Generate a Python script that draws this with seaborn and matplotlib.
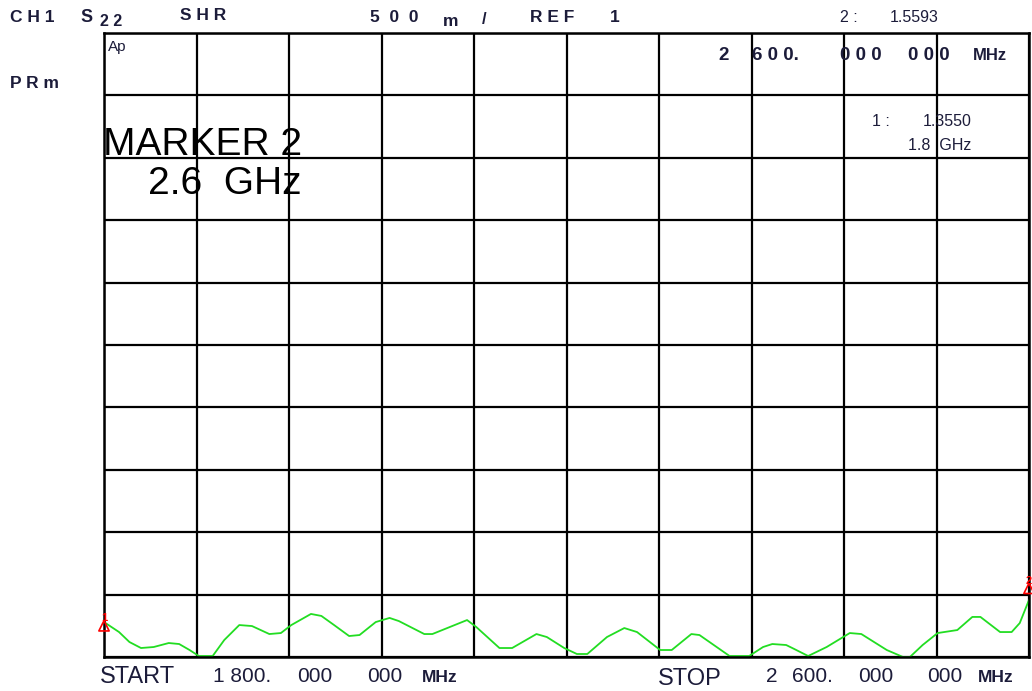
import numpy as np
import pandas as pd
import matplotlib
matplotlib.use("Agg")
import matplotlib.pyplot as plt
import seaborn as sns

# trace (MHz, SWR)
freq_mhz = [1800, 1813, 1822, 1832, 1843, 1856, 1865, 1874, 1882, 1894, 1904, 1917, 1928,
            1943, 1953, 1962, 1979, 1988, 1999, 2012, 2021, 2035, 2047, 2055, 2077,
            2084, 2114, 2122, 2142, 2153, 2174, 2183, 2198, 2209, 2218, 2235, 2250,
            2261, 2281, 2291, 2308, 2315, 2341, 2358, 2370, 2378, 2390, 2397, 2409,
            2425, 2445, 2455, 2477, 2491, 2497, 2508, 2521, 2538, 2551, 2558, 2575,
            2585, 2592, 2600]
swr = [1.28, 1.200, 1.120, 1.072, 1.080, 1.112, 1.104, 1.056, 1.008, 1.008, 1.136, 1.256, 1.248,
       1.184, 1.192, 1.256, 1.345, 1.329, 1.256, 1.168, 1.176, 1.280, 1.313, 1.288, 1.184,
       1.184, 1.296, 1.240, 1.072, 1.072, 1.184, 1.160, 1.072, 1.024, 1.024, 1.160, 1.232,
       1.200, 1.056, 1.056, 1.184, 1.176, 1.008, 1.008, 1.080, 1.104, 1.096, 1.064, 1.008,
       1.080, 1.192, 1.184, 1.056, 1.000, 1.000, 1.096, 1.192, 1.216, 1.321, 1.321, 1.200,
       1.200, 1.272, 1.457]

marker_freq = [1800, 2600]
marker_swr = [1.25, 1.55]
marker_names = ["1", "2"]

ref_value = 1.0
per_div = 0.5
n_div = 10

sns.set_style("white")
plt.rcParams['font.family'] = ['Liberation Sans', 'DejaVu Sans']

fig = plt.figure(figsize=(10.32, 6.91), dpi=100)
ax = fig.add_axes([104 / 1032, 34 / 691, 925 / 1032, 624 / 691])

df = pd.DataFrame({"freq": freq_mhz, "swr": swr})
sns.lineplot(data=df, x="freq", y="swr", ax=ax, color="#22dd22", lw=1.3)
sns.scatterplot(x=marker_freq, y=marker_swr, ax=ax, marker="^", s=55,
                facecolor="none", edgecolor="red", linewidth=1.2, zorder=5)
for coll in ax.collections:
    coll.set_clip_on(False)
for f, v, n in zip(marker_freq, marker_swr, marker_names):
    ax.text(f, v + 0.06, n, color="red", fontsize=8, ha="center", va="center",
            fontweight="bold", zorder=6, clip_on=False)

ax.set_xlim(1800, 2600)
ax.set_ylim(ref_value, ref_value + per_div * n_div)
ax.set_xticks(np.linspace(1800, 2600, n_div + 1))
ax.set_yticks(np.linspace(ref_value, ref_value + per_div * n_div, n_div + 1))
ax.grid(True, color="black", lw=1.6)
ax.tick_params(length=0, labelbottom=False, labelleft=False)
ax.set_xlabel("")
ax.set_ylabel("")
for s in ax.spines.values():
    s.set_color("black")
    s.set_linewidth(1.8)

txt = "#1c1c3a"


def put(px, py, s, size, bold=False, color=txt):
    fig.text(px / 1032, 1 - py / 691, s, fontsize=size, color=color, va="center", ha="left",
             fontweight="bold" if bold else "normal")


# header line
put(10, 17, "C H 1", 12.5, True)
put(80, 17, "S", 13, True)
put(100, 21, "2 2", 11.5, True)
put(180, 16, "S H R", 12.5, True)
put(370, 17, "5  0  0", 12.5, True)
put(443, 21, "m", 12.5, True)
put(482, 20, "/", 12, True)
put(530, 17, "R E F", 12.5, True)
put(610, 17, "1", 12.5, True)
put(840, 17, "2 :", 11.5)
put(890, 17, "1.5593", 11.5)
put(10, 83, "P R m", 12.5, True)
put(108, 47, "Ap", 11)

# marker readout (top right)
put(718, 55, "2", 13.5, True)
put(752, 55, "6 0 0.", 13.5, True)
put(840, 55, "0 0 0", 13.5, True)
put(908, 55, "0 0 0", 13.5, True)
put(973, 56, "MHz", 12, True)
put(872, 121, "1 :", 11.5)
put(923, 121, "1.3550", 11.5)
put(908, 145, "1.8  GHz", 11.5)

put(103, 145, "MARKER 2", 28, color="black")
put(148, 184, "2.6  GHz", 28, color="black")

# start / stop line
put(100, 677, "START", 17)
put(213, 677, "1 800.", 15)
put(297, 677, "000", 15)
put(367, 677, "000", 15)
put(422, 678, "MHz", 12.5, True)
put(658, 679, "STOP", 17)
put(766, 677, "2", 15)
put(792, 677, "600.", 15)
put(858, 677, "000", 15)
put(927, 677, "000", 15)
put(978, 678, "MHz", 12.5, True)

fig.savefig("out.png", dpi=100)
